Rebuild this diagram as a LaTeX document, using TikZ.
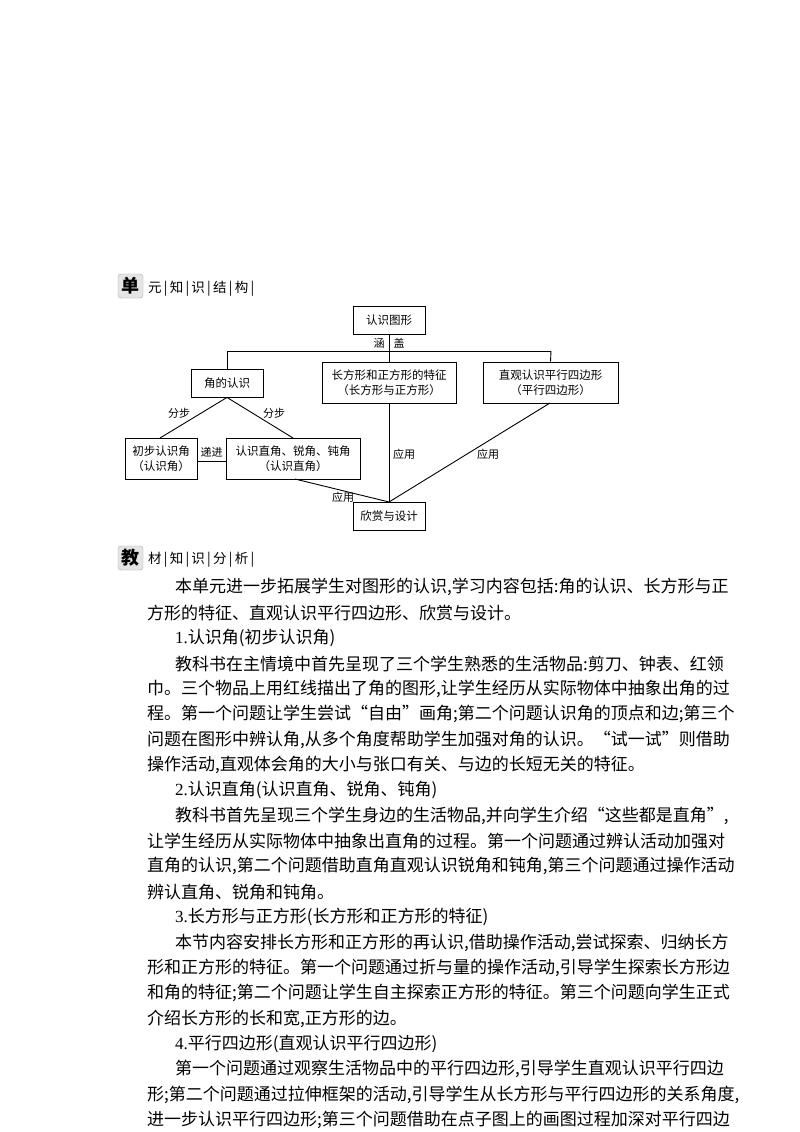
\documentclass[tikz,border=0pt]{standalone}
\usepackage{fontspec}
\setmainfont{Liberation Serif}
\newfontfamily\cjk{Noto Sans CJK SC}
\XeTeXlinebreaklocale "zh"
\XeTeXlinebreakskip=0pt plus 3pt minus 1pt
\begin{document}
\begin{tikzpicture}[x=1pt,y=-1pt,
  bx/.style={draw,line width=0.9pt,inner sep=0pt,font=\cjk\fontsize{11.5}{15}\selectfont,align=center},
  lbl/.style={font=\cjk\fontsize{11}{12}\selectfont,inner sep=0pt},
  ln/.style={line width=0.9pt},
  icon/.style={draw=gray!70,fill=gray!20,rounded corners=3pt,minimum width=25pt,minimum height=24pt,inner sep=0pt,font=\cjk\bfseries\fontsize{18}{18}\selectfont},
  hd/.style={anchor=west,inner sep=0pt,font=\cjk\fontsize{13.5}{15}\selectfont},
  fl/.style={anchor=west,inner sep=0pt,font=\cjk\fontsize{17}{20}\selectfont},
]
\useasboundingbox (0,0) rectangle (800,1132);
\fill[white] (0,0) rectangle (800,1132);
% headers
\node[icon] (i1) at (130.5,286) {单};
\node[hd] (h1) at (148,289) {元\,|\,知\,|\,识\,|\,结\,|\,构\,|};
\node[icon] (i2) at (130.5,558) {教};
\node[hd] (h2) at (148,560) {材\,|\,知\,|\,识\,|\,分\,|\,析\,|};
% diagram
\node[bx,minimum width=72pt,minimum height=28pt] (a) at (389,320) {认识图形};
\node[bx,minimum width=72pt,minimum height=28pt] (b) at (227,383) {角的认识};
\node[bx,minimum width=134pt,minimum height=41pt] (c) at (389,382.5) {长方形和正方形的特征\\（长方形与正方形）};
\node[bx,minimum width=135pt,minimum height=41pt] (d) at (550.5,382.5) {直观认识平行四边形\\（平行四边形）};
\node[bx,minimum width=72pt,minimum height=41pt] (e) at (161,458.5) {初步认识角\\（认识角）};
\node[bx,minimum width=134pt,minimum height=41pt] (f) at (293,458.5) {认识直角、锐角、钝角\\（认识直角）};
\node[bx,minimum width=72pt,minimum height=28pt] (g) at (389,516) {欣赏与设计};
\coordinate (hL) at (227,351);
\coordinate (hM) at (389,351);
\coordinate (hR) at (551,351);
\draw[ln] (a.south) -- (hM);
\draw[ln] (hL) -- (hR);
\draw[ln] (hL) -- (b.north);
\draw[ln] (hM) -- (c.north);
\draw[ln] (hR) -- (d.north);
\node[lbl] (l0) at (389,343) {涵\hspace{9pt}盖};
\coordinate (et) at (160,438);
\coordinate (ft) at (293,438);
\draw[ln] (b.south) -- (et);
\draw[ln] (b.south) -- (ft);
\node[lbl] (l1) at (179,413) {分步};
\node[lbl] (l2) at (274,413) {分步};
\draw[ln] (e.east |- 0,461) -- (f.west |- 0,461);
\node[lbl] (l3) at (211.5,452) {递进};
\coordinate (gt) at (389,502);
\coordinate (fb) at (295,479);
\coordinate (db) at (550,403);
\draw[ln] (c.south) -- (gt);
\draw[ln] (db) -- (gt);
\draw[ln] (fb) -- (gt);
\node[lbl] (l4) at (404,454) {应用};
\node[lbl] (l5) at (488,454) {应用};
\node[lbl] (l6) at (343,497) {应用};
% body text
\newcommand\fline[2]{\hbox to 533pt{#2}}
\node[fl] (t1) at (175,587) {\hbox to 505pt{本单元进一步拓展学生对图形的认识,学习内容包括:角的认识、长方形与正}};
\node[fl] (t2) at (147,613) {方形的特征、直观认识平行四边形、欣赏与设计。};
\node[fl] (t3) at (175,638) {{\rmfamily 1.}认识角(初步认识角)};
\node[fl] (t4) at (175,664) {\hbox to 505pt{教科书在主情境中首先呈现了三个学生熟悉的生活物品:剪刀、钟表、红领}};
\node[fl] (t5) at (147,689) {\fline{}{巾。三个物品上用红线描出了角的图形,让学生经历从实际物体中抽象出角的过}};
\node[fl] (t6) at (147,714) {\fline{}{程。第一个问题让学生尝试“自由”画角;第二个问题认识角的顶点和边;第三个}};
\node[fl] (t7) at (147,740) {\fline{}{问题在图形中辨认角,从多个角度帮助学生加强对角的认识。“试一试”则借助}};
\node[fl] (t8) at (147,765) {操作活动,直观体会角的大小与张口有关、与边的长短无关的特征。};
\node[fl] (t9) at (175,790) {{\rmfamily 2.}认识直角(认识直角、锐角、钝角)};
\node[fl] (t10) at (175,816) {\hbox to 505pt{教科书首先呈现三个学生身边的生活物品,并向学生介绍“这些都是直角”,}};
\node[fl] (t11) at (147,841) {\fline{}{让学生经历从实际物体中抽象出直角的过程。第一个问题通过辨认活动加强对}};
\node[fl] (t12) at (147,866) {\fline{}{直角的认识,第二个问题借助直角直观认识锐角和钝角,第三个问题通过操作活动}};
\node[fl] (t13) at (147,892) {辨认直角、锐角和钝角。};
\node[fl] (t14) at (175,917) {{\rmfamily 3.}长方形与正方形(长方形和正方形的特征)};
\node[fl] (t15) at (175,943) {\hbox to 505pt{本节内容安排长方形和正方形的再认识,借助操作活动,尝试探索、归纳长方}};
\node[fl] (t16) at (147,968) {\fline{}{形和正方形的特征。第一个问题通过折与量的操作活动,引导学生探索长方形边}};
\node[fl] (t17) at (147,993) {\fline{}{和角的特征;第二个问题让学生自主探索正方形的特征。第三个问题向学生正式}};
\node[fl] (t18) at (147,1019) {介绍长方形的长和宽,正方形的边。};
\node[fl] (t19) at (175,1044) {{\rmfamily 4.}平行四边形(直观认识平行四边形)};
\node[fl] (t20) at (175,1069) {\hbox to 505pt{第一个问题通过观察生活物品中的平行四边形,引导学生直观认识平行四边}};
\node[fl] (t21) at (147,1095) {\fline{}{形;第二个问题通过拉伸框架的活动,引导学生从长方形与平行四边形的关系角度,}};
\node[fl] (t22) at (147,1120) {\fline{}{进一步认识平行四边形;第三个问题借助在点子图上的画图过程加深对平行四边}};
\end{tikzpicture}
\end{document}
